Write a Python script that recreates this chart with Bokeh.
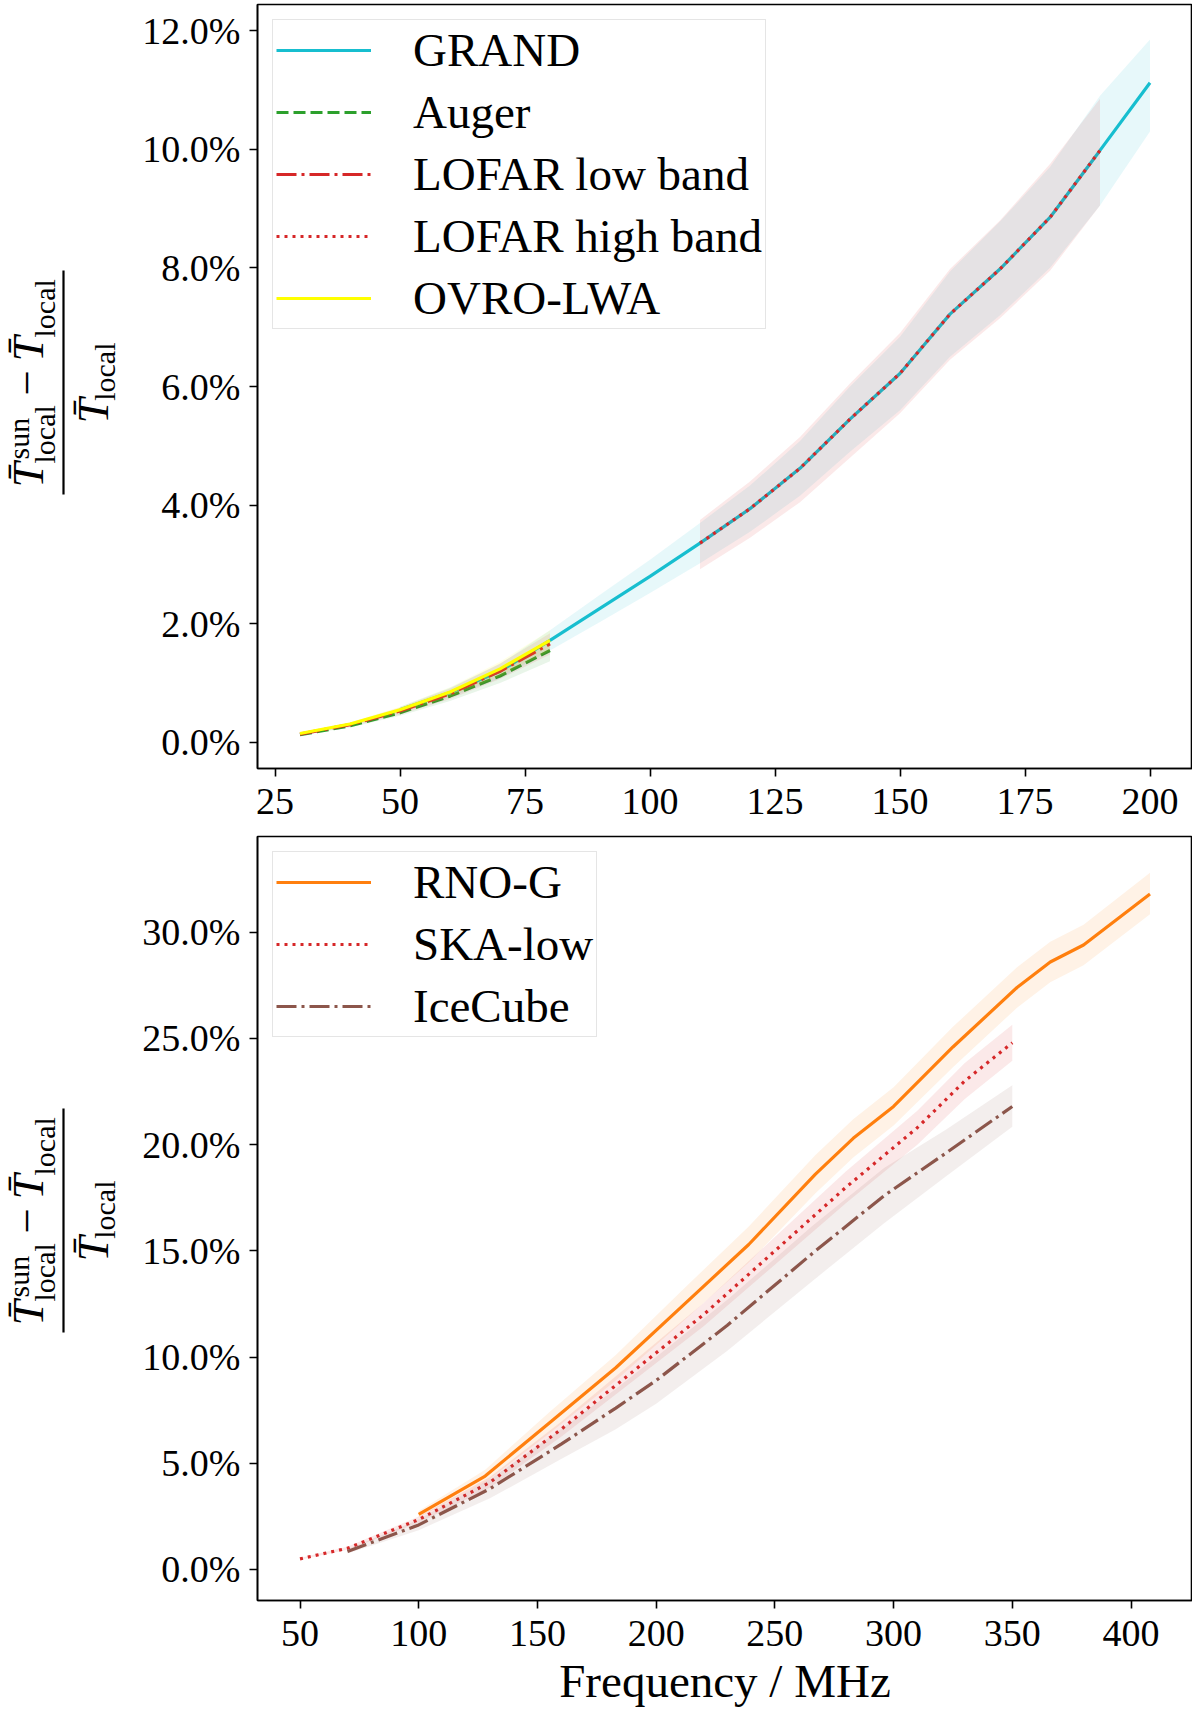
from bokeh.plotting import figure
from bokeh.models import (Legend, LegendItem, FixedTicker, PrintfTickFormatter, Range1d)
from bokeh.core.properties import value
from bokeh.layouts import column, row
from bokeh.embed import file_html
from bokeh.resources import INLINE
import math

FONT = "Liberation Serif"

# ---- top panel: frequencies in MHz, values in %
grand_f = [50, 60, 70, 80, 90, 100, 110, 120, 130, 140, 150, 160, 170, 180, 190, 200]
grand_v = [0.55, 0.84, 1.20, 1.72, 2.26, 2.80, 3.36, 3.94, 4.62, 5.45, 6.22, 7.22, 7.98, 8.85, 9.98, 11.12]
grand_lo = [0.50, 0.76, 1.08, 1.55, 2.03, 2.52, 3.02, 3.55, 4.16, 4.90, 5.60, 6.50, 7.20, 8.00, 9.05, 10.30]
grand_hi = [0.60, 0.92, 1.32, 1.89, 2.49, 3.08, 3.70, 4.33, 5.08, 6.00, 6.84, 7.94, 8.78, 9.70, 10.90, 11.85]

auger_f = [30, 40, 50, 60, 70, 80]
auger_v = [0.13, 0.28, 0.50, 0.78, 1.12, 1.55]
auger_lo = [0.12, 0.25, 0.45, 0.70, 1.00, 1.37]
auger_hi = [0.14, 0.31, 0.55, 0.86, 1.24, 1.72]

lofar_low_f = [30, 40, 50, 60, 70, 80]
lofar_low_v = [0.14, 0.30, 0.53, 0.82, 1.20, 1.66]
lofar_low_lo = [0.12, 0.27, 0.47, 0.73, 1.07, 1.48]
lofar_low_hi = [0.16, 0.33, 0.59, 0.91, 1.33, 1.84]

lofar_high_f = [110, 120, 130, 140, 150, 160, 170, 180, 190]
lofar_high_v = [3.36, 3.94, 4.62, 5.45, 6.22, 7.22, 7.98, 8.85, 9.98]
lofar_high_lo = [2.92, 3.45, 4.05, 4.80, 5.55, 6.45, 7.15, 7.95, 9.05]
lofar_high_hi = [3.75, 4.40, 5.15, 6.05, 6.90, 7.98, 8.80, 9.75, 10.85]

ovro_f = [30, 40, 50, 60, 70, 80]
ovro_v = [0.15, 0.31, 0.55, 0.85, 1.24, 1.72]
ovro_lo = [0.13, 0.28, 0.50, 0.77, 1.12, 1.55]
ovro_hi = [0.17, 0.34, 0.60, 0.93, 1.36, 1.89]

# ---- bottom panel
rno_f = [100, 128, 155, 183, 211, 239, 267, 283, 300, 325, 352, 366, 380, 408]
rno_v = [2.60, 4.40, 6.90, 9.50, 12.40, 15.30, 18.60, 20.30, 21.80, 24.60, 27.40, 28.60, 29.40, 31.80]
rno_lo = [2.45, 4.10, 6.40, 8.90, 11.65, 14.45, 17.70, 19.40, 20.90, 23.65, 26.45, 27.65, 28.45, 30.85]
rno_hi = [2.75, 4.70, 7.40, 10.10, 13.15, 16.15, 19.50, 21.20, 22.70, 25.55, 28.35, 29.55, 30.35, 32.80]

ska_f = [50, 70, 100, 130, 160, 190, 220, 250, 280, 310, 330, 350]
ska_v = [0.50, 1.00, 2.35, 4.10, 6.60, 9.30, 12.00, 15.00, 18.00, 20.80, 23.00, 24.80]
ska_lo = [0.46, 0.93, 2.20, 3.85, 6.25, 8.85, 11.45, 14.35, 17.25, 20.00, 22.15, 23.95]
ska_hi = [0.54, 1.07, 2.50, 4.35, 6.95, 9.75, 12.55, 15.65, 18.75, 21.60, 23.85, 25.65]

ice_f = [70, 100, 130, 160, 183, 200, 230, 266, 296, 322, 350]
ice_v = [0.85, 2.10, 3.80, 5.90, 7.60, 8.90, 11.50, 14.90, 17.60, 19.60, 21.80]
ice_lo = [0.75, 1.85, 3.35, 5.20, 6.60, 7.80, 10.30, 13.60, 16.30, 18.50, 20.85]
ice_hi = [0.95, 2.35, 4.25, 6.60, 8.50, 10.00, 12.70, 16.20, 18.90, 20.70, 22.80]

top_xticks = [25, 50, 75, 100, 125, 150, 175, 200]
top_yticks = [0, 2, 4, 6, 8, 10, 12]
bot_xticks = [50, 100, 150, 200, 250, 300, 350, 400]
bot_yticks = [0, 5, 10, 15, 20, 25, 30]

LABEL_W = 130
FRAME_W = 935
FRAME_H = 764


def make_fig(xr, yr, b_top, b_bottom, xticks, yticks):
    p = figure(frame_width=FRAME_W, frame_height=FRAME_H, x_range=Range1d(*xr), y_range=Range1d(*yr),
               output_backend="svg", toolbar_location=None,
               min_border_left=257 - LABEL_W, min_border_right=0,
               min_border_top=b_top, min_border_bottom=b_bottom)
    p.grid.visible = False
    p.outline_line_color = "black"
    p.outline_line_width = 1.6
    p.outline_line_alpha = 1
    p.xaxis.ticker = FixedTicker(ticks=xticks)
    p.yaxis.ticker = FixedTicker(ticks=yticks)
    p.yaxis.formatter = PrintfTickFormatter(format="%.1f%%")
    for ax in p.xaxis + p.yaxis:
        ax.axis_line_width = 1.6
        ax.major_tick_line_width = 1.6
        ax.major_tick_out = 8
        ax.major_tick_in = 0
        ax.minor_tick_out = 0
        ax.minor_tick_in = 0
        ax.major_label_text_font = FONT
        ax.major_label_text_font_size = "38px"
        ax.major_label_text_color = "black"
        ax.major_label_standoff = 9
    p.xaxis.major_label_standoff = 12
    return p


def add_series(p, f, v, lo, hi, color, dash):
    p.varea(x=f, y1=lo, y2=hi, fill_color=color, fill_alpha=0.1)
    return p.line(f, v, line_color=color, line_width=3.2, line_dash=dash)


def add_legend(p, items):
    leg = Legend(items=[LegendItem(label=k, renderers=[r]) for k, r in items], location="top_left")
    leg.label_text_font = FONT
    leg.label_text_font_size = "47px"
    leg.label_text_color = "black"
    leg.glyph_width = 95
    leg.glyph_height = 52
    leg.label_height = 52
    leg.label_standoff = 42
    leg.spacing = 8
    leg.padding = 3
    leg.margin = 15
    leg.border_line_color = "#cccccc"
    leg.border_line_width = 1.5
    leg.background_fill_alpha = 0.8
    p.add_layout(leg)


def label_fig(b_top, b_bottom, c):
    # y axis label (T^sun_local - T_local) / T_local, set by hand in a narrow side figure
    # whose frame lines up with the main frame; coordinates are pixels from the frame bottom
    lf = figure(frame_width=LABEL_W, frame_height=FRAME_H,
                x_range=Range1d(0, LABEL_W), y_range=Range1d(0, FRAME_H),
                output_backend="svg", toolbar_location=None,
                min_border_left=0, min_border_right=0,
                min_border_top=b_top, min_border_bottom=b_bottom,
                x_axis_location=None, y_axis_location=None)
    lf.grid.visible = False
    lf.outline_line_color = None

    def lab(x, y, text, size, italic=False, align="left"):
        lf.text(x=[x], y=[y], text=[text], angle=math.pi / 2, text_font=value(FONT),
                text_font_size=size, text_font_style="italic" if italic else "normal",
                text_baseline="middle", text_align=align, text_color="black")

    big, small = "45px", "30px"
    s = c - 105
    lab(27, s, "T\u0304", big, True)
    lab(18, s + 28, "sun", small)
    lab(44, s + 24, "local", small)
    lab(27, s + 92, "\u2212", big)
    lab(27, s + 126, "T\u0304", big, True)
    lab(44, s + 150, "local", small)
    # denominator anchored at its far end so it stays inside the narrow figure
    lab(92, c - 16, "T\u0304", big, True, "right")
    lab(104, c + 40, "local", small, False, "right")
    lf.segment(x0=[63], y0=[c - 112], x1=[63], y1=[c + 112], line_color="black", line_width=2.2)
    return lf


# ---- top figure
TOP_B, TOP_BB = 4, 62
p1 = make_fig((21.5, 208.5), (-0.44, 12.44), TOP_B, TOP_BB, top_xticks, top_yticks)
r_grand = add_series(p1, grand_f, grand_v, grand_lo, grand_hi, "#17becf", "solid")
r_auger = add_series(p1, auger_f, auger_v, auger_lo, auger_hi, "#2ca02c", "12 5")
r_llow = add_series(p1, lofar_low_f, lofar_low_v, lofar_low_lo, lofar_low_hi, "#d62728", "20 5 3 5")
r_lhigh = add_series(p1, lofar_high_f, lofar_high_v, lofar_high_lo, lofar_high_hi, "#d62728", "3 5")
r_ovro = add_series(p1, ovro_f, ovro_v, ovro_lo, ovro_hi, "#ffff00", "solid")
add_legend(p1, [("GRAND", r_grand), ("Auger", r_auger), ("LOFAR low band", r_llow),
                ("LOFAR high band", r_lhigh), ("OVRO-LWA", r_ovro)])
l1 = label_fig(TOP_B, TOP_BB, 386)

# ---- bottom figure
BOT_B, BOT_BB = 6, 104
p2 = make_fig((32.1, 425.9), (-1.46, 34.51), BOT_B, BOT_BB, bot_xticks, bot_yticks)
r_rno = add_series(p2, rno_f, rno_v, rno_lo, rno_hi, "#ff7f0e", "solid")
r_ska = add_series(p2, ska_f, ska_v, ska_lo, ska_hi, "#d62728", "3 5")
r_ice = add_series(p2, ice_f, ice_v, ice_lo, ice_hi, "#8c564b", "20 5 3 5")
add_legend(p2, [("RNO-G", r_rno), ("SKA-low", r_ska), ("IceCube", r_ice)])
p2.xaxis.axis_label = "Frequency / MHz"
p2.xaxis.axis_label_text_font = FONT
p2.xaxis.axis_label_text_font_size = "47px"
p2.xaxis.axis_label_text_font_style = "normal"
p2.xaxis.axis_label_text_color = "black"
p2.xaxis.axis_label_standoff = 6
l2 = label_fig(BOT_B, BOT_BB, 380)

layout = column(row(l1, p1, spacing=0), row(l2, p2, spacing=0), spacing=0)
open("out.html", "w").write(file_html(layout, INLINE))
